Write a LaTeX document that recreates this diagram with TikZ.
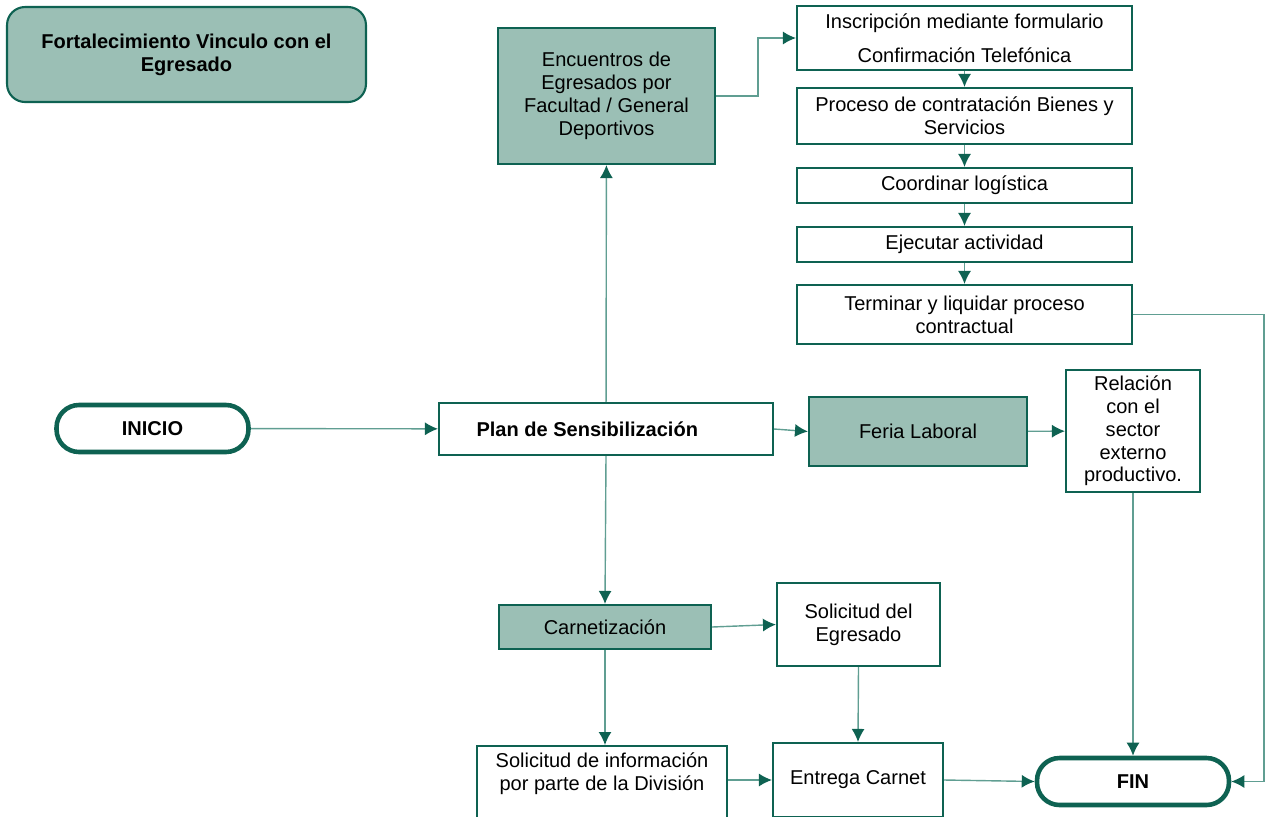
\documentclass[tikz,border=0pt]{standalone}
\usepackage{fontspec}
\setmainfont{Liberation Sans}
\usetikzlibrary{arrows.meta,calc}

\definecolor{verdeosc}{RGB}{14,98,82}
\definecolor{verdecaja}{RGB}{155,191,181}
\definecolor{verdelinea}{RGB}{96,158,146}
\newcommand{\letra}{\fontsize{11.4}{13}\selectfont}

\tikzset{
  caja/.style={draw=verdeosc, line width=1.2pt, fill=white, align=center, inner sep=2pt, font=\letra},
  cajaverde/.style={caja, fill=verdecaja},
  terminal/.style={draw=verdeosc, line width=2.6pt, fill=white, rounded corners=0.45cm,
    minimum width=3.84cm, minimum height=0.94cm, font=\letra\bfseries},
  flecha/.style={draw=verdelinea, line width=0.8pt, -{Latex[length=0.26cm,width=0.26cm,color=verdeosc]}}
}

\begin{document}
\begin{tikzpicture}[x=0.02cm, y=-0.02cm]
\useasboundingbox (0,0) rectangle (1265,816);

% titulo
\node[cajaverde, rounded corners=0.36cm, minimum width=7.18cm, minimum height=1.9cm, font=\letra\bfseries] (titulo) at (186.5,54.5) {Fortalecimiento Vinculo con el\\Egresado};

% rama superior
\node[cajaverde, minimum width=4.34cm, minimum height=2.72cm] (encuentros) at (606.5,96) {Encuentros de\\Egresados por\\Facultad / General\\Deportivos};
\node[caja, minimum width=6.7cm, minimum height=1.28cm] (inscripcion) at (964.5,38) {Inscripción mediante formulario\\[6.3pt]Confirmación Telefónica};
\node[caja, minimum width=6.7cm, minimum height=1.12cm] (proceso) at (964.5,116) {Proceso de contratación Bienes y\\Servicios};
\node[caja, minimum width=6.7cm, minimum height=0.7cm] (coordinar) at (964.5,185.5) {Coordinar logística};
\node[caja, minimum width=6.7cm, minimum height=0.7cm] (ejecutar) at (964.5,244.5) {Ejecutar actividad};
\node[caja, minimum width=6.7cm, minimum height=1.18cm] (terminar) at (964.5,314.5) {Terminar y liquidar proceso\\contractual};

% fila central
\node[terminal] (inicio) at (152.5,428.5) {INICIO};
\node[caja, minimum width=6.68cm, minimum height=1.04cm, font=\letra\bfseries] (plan) at (606,429) {Plan de Sensibilización\hspace*{0.75cm}};
\node[cajaverde, minimum width=4.36cm, minimum height=1.38cm] (feria) at (918,431.5) {Feria Laboral};
\node[caja, minimum width=2.68cm, minimum height=2.44cm] (relacion) at (1133,431) {Relación\\con el\\sector\\externo\\productivo.};

% rama inferior
\node[cajaverde, minimum width=4.24cm, minimum height=0.88cm] (carnet) at (605,627) {Carnetización};
\node[caja, minimum width=3.26cm, minimum height=1.66cm] (solegresado) at (858.5,624.5) {Solicitud del\\Egresado};
\node[caja, anchor=north, minimum width=5cm, inner ysep=4pt, text depth=1.3cm] (solinfo) at (602,745) {Solicitud de información\\por parte de la División};
\node[caja, minimum width=3.4cm, minimum height=1.48cm] (entrega) at (858,780) {Entrega Carnet};
\node[terminal] (fin) at (1133,781.5) {FIN};

% conectores
\draw[flecha] (inicio) -- (plan);
\draw[flecha] (plan) -- (encuentros);
\draw[flecha] (encuentros.east) -- ++(42,0) |- (inscripcion.west);
\draw[flecha] (inscripcion) -- (proceso);
\draw[flecha] (proceso) -- (coordinar);
\draw[flecha] (coordinar) -- (ejecutar);
\draw[flecha] (ejecutar) -- (terminar);
\draw[flecha] (terminar.east) -- ++(131,0) |- (fin.east);
\draw[flecha] (plan.east) -- (feria.west);
\draw[flecha] (feria) -- (relacion);
\draw[flecha] (relacion) -- (fin);
\draw[flecha] (plan.south) -- (carnet.north);
\draw[flecha] (carnet.east) -- (solegresado.west);
\draw[flecha] (carnet.south) -- (carnet.south |- solinfo.north);
\draw[flecha] (solegresado.south) -- (entrega.north);
\draw[flecha] (solinfo.east |- entrega.west) -- (entrega.west);
\draw[flecha] (entrega.east) -- (fin.west);
\end{tikzpicture}
\end{document}
